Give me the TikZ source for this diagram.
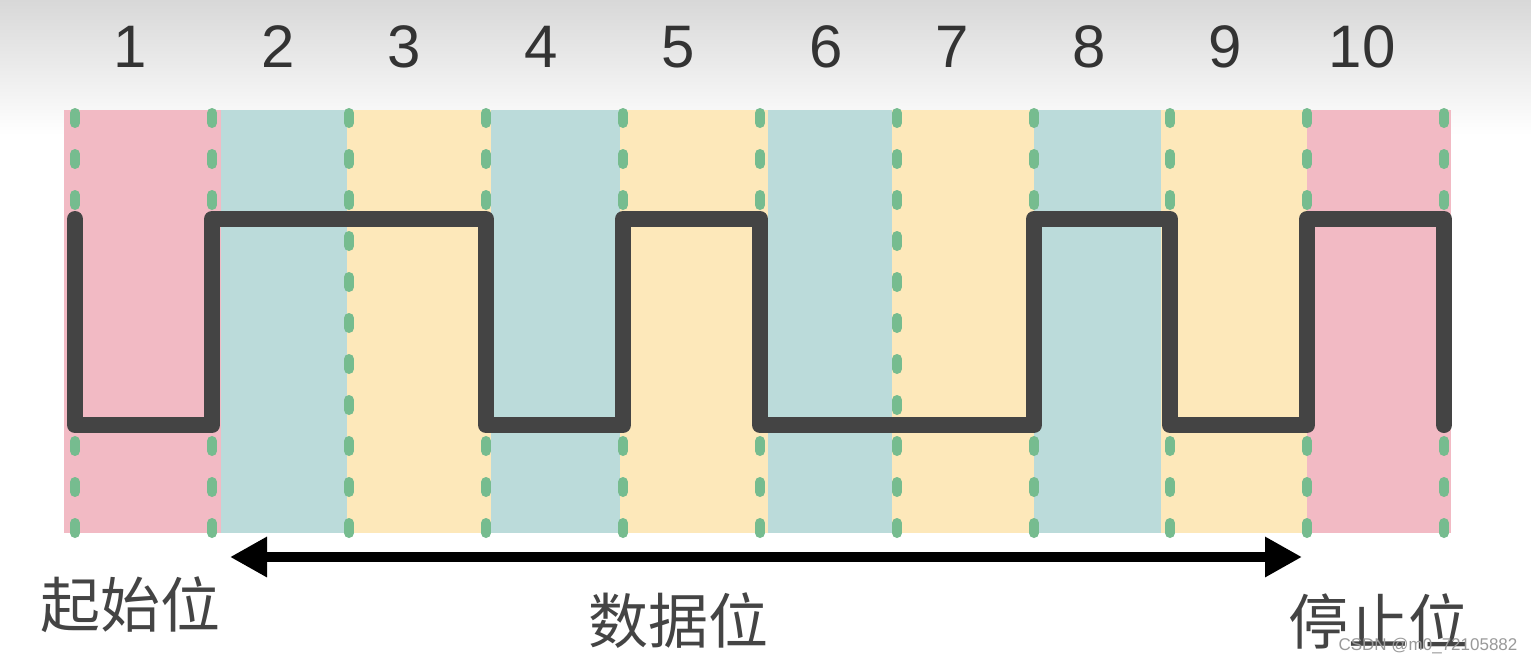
\documentclass[tikz,border=0pt]{standalone}
\usepackage{fontspec}
\usetikzlibrary{arrows.meta}
\newfontfamily\numfont{Liberation Sans}
\newfontfamily\cjk{Noto Sans CJK SC}
\definecolor{bgtop}{HTML}{D8D8D8}
\definecolor{pinkc}{HTML}{F2BAC4}
\definecolor{tealc}{HTML}{BBDBDA}
\definecolor{yelc}{HTML}{FDE8BA}
\definecolor{dashc}{HTML}{76BC8F}
\definecolor{wavec}{HTML}{444444}
\definecolor{numc}{HTML}{333333}
\definecolor{labc}{HTML}{444444}
\tikzset{
  numlabel/.style={font=\numfont\fontsize{60}{60}\selectfont, text=numc, inner sep=0pt},
  cjklabel/.style={font=\cjk\fontsize{60}{60}\selectfont, text=labc, inner sep=0pt},
  bitdash/.style={draw=dashc, line width=10pt, line cap=round, dash pattern=on 10pt off 31pt},
  wave/.style={draw=wavec, line width=16pt, line cap=round, line join=round},
  spanarrow/.style={draw=black, line width=10pt, {Triangle[length=37pt,width=38pt]}-{Triangle[length=37pt,width=38pt]}},
  wmark/.style={font=\numfont\fontsize{17}{17}\selectfont, text=black!40, inner sep=0pt}
}
\begin{document}
\begin{tikzpicture}[x=1pt,y=-1pt]
\useasboundingbox (0,0) rectangle (1531,664);
\fill[white] (0,0) rectangle (1531,664);
\shade[top color=bgtop, bottom color=white] (0,0) rectangle (1531,135);
% coloured bit cells
\fill[pinkc] (64,110) rectangle (221,533);
\fill[tealc] (221,110) rectangle (347,533);
\fill[yelc] (347,110) rectangle (491,533);
\fill[tealc] (491,110) rectangle (620,533);
\fill[yelc] (620,110) rectangle (768,533);
\fill[tealc] (768,110) rectangle (892,533);
\fill[yelc] (892,110) rectangle (1034,533);
\fill[tealc] (1034,110) rectangle (1161,533);
\fill[yelc] (1161,110) rectangle (1307,533);
\fill[pinkc] (1307,110) rectangle (1451,533);
% dashed boundaries
\foreach \x in {75,212,349,486,623,760,897,1034,1170,1307,1444}
  \draw[bitdash] (\x,113) -- (\x,540);
% waveform
\draw[wave] (75,219) -- (75,425) -- (212,425) -- (212,219) -- (486,219) -- (486,425)
  -- (623,425) -- (623,219) -- (760,219) -- (760,425) -- (1034,425) -- (1034,219)
  -- (1170,219) -- (1170,425) -- (1307,425) -- (1307,219) -- (1444,219) -- (1444,425);
% bit numbers
\node[numlabel] (n1) at (130,47) {1};
\node[numlabel] (n2) at (278,47) {2};
\node[numlabel] (n3) at (404,47) {3};
\node[numlabel] (n4) at (541,47) {4};
\node[numlabel] (n5) at (678,47) {5};
\node[numlabel] (n6) at (826,47) {6};
\node[numlabel] (n7) at (952,47) {7};
\node[numlabel] (n8) at (1089,47) {8};
\node[numlabel] (n9) at (1225,47) {9};
\node[numlabel] (n10) at (1362,47) {10};
% arrow
\coordinate (as) at (230,557);
\coordinate (ae) at (1302,557);
\draw[spanarrow] (as) -- (ae);
% labels
\node[cjklabel] (start) at (130,605) {起始位};
\node[cjklabel] (data) at (678,621) {数据位};
\node[cjklabel] (stop) at (1378,621) {停止位};
\node[wmark] (wm) at (1428,646) {CSDN @m0\_72105882};
\end{tikzpicture}
\end{document}
